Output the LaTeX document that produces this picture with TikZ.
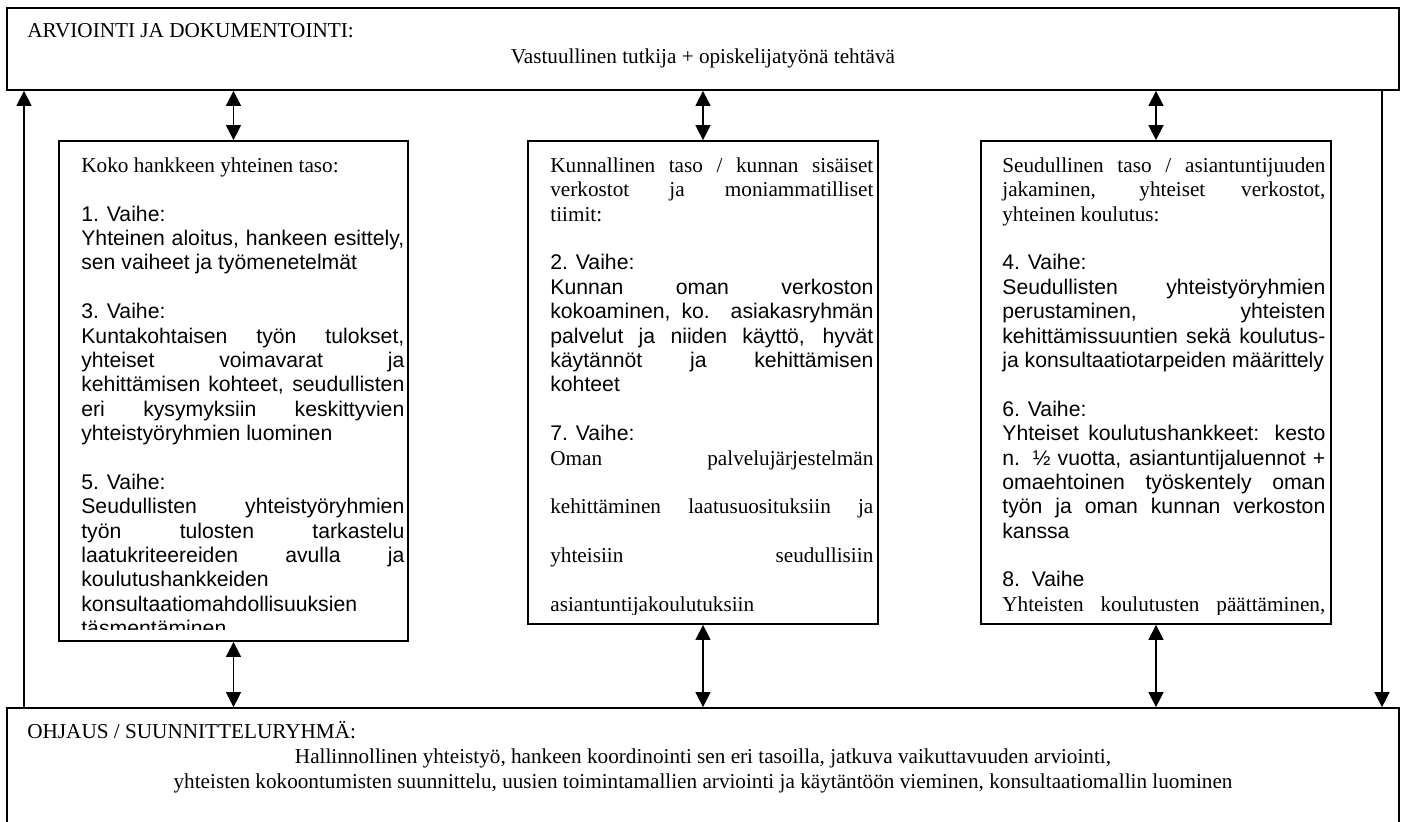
\documentclass[tikz,border=0pt]{standalone}
\usepackage{fontspec}
\setmainfont{Liberation Serif}
\setsansfont{Liberation Sans}
\usetikzlibrary{arrows.meta, fit, positioning}
\newdimen\pxu \pxu=0.566pt
\newcommand{\fline}[1]{\hbox to \hsize{\strut\spaceskip=.25em plus 1fil\relax #1}} % justified line
\newcommand{\lline}[1]{\hbox to \hsize{\strut #1\hfil}} % last line of a paragraph
\newcommand{\eline}{\hbox{\strut}} % empty line
\tikzset{
>={Triangle[length=8.5pt, width=8.5pt]}, % filled arrow heads
panel/.style={draw, line width=1pt, inner sep=0pt}, % the five boxes
flow/.style={line width=0.8pt}, % connectors between the boxes
boxtext/.style={anchor=north west, inner sep=0pt}, % text column of a phase box
plain/.style={inner sep=0pt}, % one line of text in the wide boxes
}

\begin{document}
\begin{tikzpicture}[x=\pxu, y=-\pxu, font=\fontsize{12}{13.8}\selectfont]
      \useasboundingbox (0,0) rectangle (1405,821);
      \node[panel, fit={(7,8) (1399,90)}] (arvio) {};
      \node[panel, fit={(7,708) (1399,840)}] (ohjaus) {};
      \node[panel, fit={(59,141) (408,641)}] (koko) {};
      \node[panel, fit={(528,141) (878,624)}] (kunta) {};
      \node[panel, fit={(981,141) (1331,624)}] (seutu) {};

      \node[plain, anchor=base west] (arvio-head) at (27,37) {ARVIOINTI JA DOKUMENTOINTI:};
      \node[plain, anchor=base] (arvio-text) at (703,63) {Vastuullinen tutkija + opiskelijatyönä tehtävä};
      \node[plain, anchor=base west] (ohjaus-head) at (27,738) {OHJAUS / SUUNNITTELURYHMÄ:};
      \node[plain, anchor=base] (ohjaus-text1) at (703,763)
        {Hallinnollinen yhteistyö, hankeen koordinointi sen eri tasoilla, jatkuva vaikuttavuuden arviointi,};
      \node[plain, anchor=base] (ohjaus-text2) at (703,788)
        {yhteisten kokoontumisten suunnittelu, uusien toimintamallien arviointi ja käytäntöön vieminen, konsultaatiomallin luominen};

      \begin{scope}
        \clip (59,141) rectangle (408,629);
        \node[boxtext] (koko-text) at (81,155) {\vtop{\hsize=323\pxu
          \lline{Koko hankkeen yhteinen taso:}
          \eline
          \sffamily
          \lline{1. Vaihe:}
          \fline{Yhteinen aloitus, hankeen esittely,}
          \lline{sen vaiheet ja työmenetelmät}
          \eline
          \lline{3. Vaihe:}
          \fline{Kuntakohtaisen työn tulokset,}
          \fline{yhteiset voimavarat ja}
          \fline{kehittämisen kohteet, seudullisten}
          \fline{eri kysymyksiin keskittyvien}
          \lline{yhteistyöryhmien luominen}
          \eline
          \lline{5. Vaihe:}
          \fline{Seudullisten yhteistyöryhmien}
          \fline{työn tulosten tarkastelu}
          \fline{laatukriteereiden avulla ja}
          \lline{koulutushankkeiden}
          \lline{konsultaatiomahdollisuuksien}
          \lline{täsmentäminen}}};
      \end{scope}

      \begin{scope}
        \clip (528,141) rectangle (878,614);
        \node[boxtext] (kunta-text) at (550,155) {\vtop{\hsize=323\pxu
          \fline{Kunnallinen taso / kunnan sisäiset}
          \fline{verkostot ja moniammatilliset}
          \lline{tiimit:}
          \eline
          \sffamily
          \lline{2. Vaihe:}
          \fline{Kunnan oman verkoston}
          \fline{kokoaminen, ko. asiakasryhmän}
          \fline{palvelut ja niiden käyttö, hyvät}
          \fline{käytännöt ja kehittämisen}
          \lline{kohteet}
          \eline
          \lline{7. Vaihe:}
          \rmfamily
          \fline{Oman palvelujärjestelmän}
          \eline
          \fline{kehittäminen laatusuosituksiin ja}
          \eline
          \fline{yhteisiin seudullisiin}
          \eline
          \lline{asiantuntijakoulutuksiin}}};
      \end{scope}

      \begin{scope}
        \clip (981,141) rectangle (1331,614);
        \node[boxtext] (seutu-text) at (1002,155) {\vtop{\hsize=323\pxu
          \fline{Seudullinen taso / asiantuntijuuden}
          \fline{jakaminen, yhteiset verkostot,}
          \lline{yhteinen koulutus:}
          \eline
          \sffamily
          \lline{4. Vaihe:}
          \fline{Seudullisten yhteistyöryhmien}
          \fline{perustaminen, yhteisten}
          \fline{kehittämissuuntien sekä koulutus-}
          \lline{ja konsultaatiotarpeiden määrittely}
          \eline
          \lline{6. Vaihe:}
          \fline{Yhteiset koulutushankkeet: kesto}
          \fline{n. ½ vuotta, asiantuntijaluennot +}
          \fline{omaehtoinen työskentely oman}
          \fline{työn ja oman kunnan verkoston}
          \lline{kanssa}
          \eline
          \lline{8.\ \ Vaihe}
          \rmfamily
          \fline{Yhteisten koulutusten päättäminen,}}};
      \end{scope}

      \coordinate (left-rail) at (24,400);
      \coordinate (right-rail) at (1382,400);

      \draw[flow, <->] (arvio.south -| koko.north) -- (koko.north);
      \draw[flow, <->] (arvio.south -| kunta.north) -- (kunta.north);
      \draw[flow, <->] (arvio.south -| seutu.north) -- (seutu.north);
      \draw[flow, <->] (koko.south) -- (ohjaus.north -| koko.south);
      \draw[flow, <->] (kunta.south) -- (ohjaus.north -| kunta.south);
      \draw[flow, <->] (seutu.south) -- (ohjaus.north -| seutu.south);
      \draw[flow, ->] (ohjaus.north -| left-rail) -- (arvio.south -| left-rail);
      \draw[flow, ->] (arvio.south -| right-rail) -- (ohjaus.north -| right-rail);
    \end{tikzpicture}
\end{document}
